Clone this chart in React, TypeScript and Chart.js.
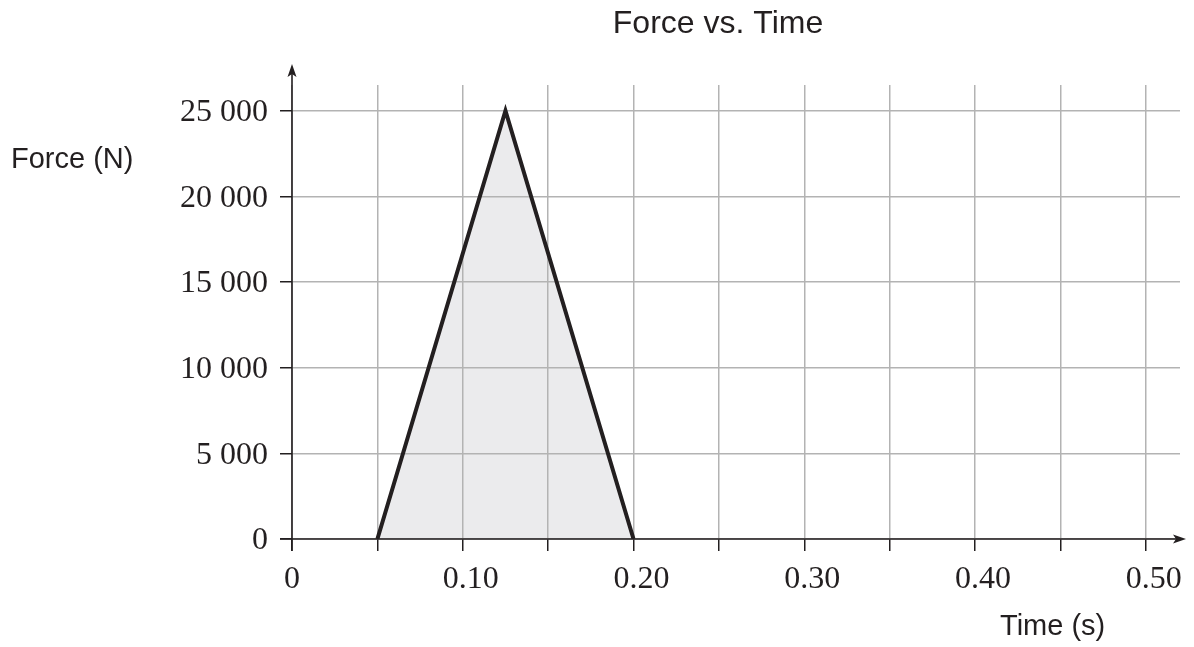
import React, { useEffect, useRef } from "react";
import { Chart, registerables } from "chart.js";

Chart.register(...registerables);

const timeValues = [0.05, 0.125, 0.2];
const forceValues = [0, 25000, 0];
const xTickValues = [0, 0.05, 0.1, 0.15, 0.2, 0.25, 0.3, 0.35, 0.4, 0.45, 0.5];
const xTickLabels = ["0", "", "\u20020.10", "", "\u20020.20", "", "\u20020.30", "", "\u20020.40", "", "\u20020.50"];
const yTickValues = [0, 5000, 10000, 15000, 20000, 25000];
const yTickLabels = ["0", "5 000", "10 000", "15 000", "20 000", "25 000"];
const titleText = "Force vs. Time";
const yTitleText = "Force (N)";
const xTitleText = "Time (s)";

const INK = "#231f20";
const SANS = "'Liberation Sans', Arial, sans-serif";
const SERIF = "'Liberation Serif', 'Times New Roman', serif";

const decorPlugin = {
  id: "decor",
  afterDraw(chart: any) {
    const { ctx, chartArea } = chart;
    const { left, right, bottom, top } = chartArea;
    ctx.save();
    ctx.strokeStyle = INK;
    ctx.fillStyle = INK;
    ctx.lineWidth = 1.6;
    // y axis
    ctx.beginPath();
    ctx.moveTo(left, bottom + 12);
    ctx.lineTo(left, top - 14);
    ctx.stroke();
    ctx.beginPath();
    ctx.moveTo(left, top - 21);
    ctx.lineTo(left - 4.5, top - 8);
    ctx.lineTo(left, top - 11);
    ctx.lineTo(left + 4.5, top - 8);
    ctx.closePath();
    ctx.fill();
    // x axis
    ctx.beginPath();
    ctx.moveTo(left - 12, bottom);
    ctx.lineTo(right + 2, bottom);
    ctx.stroke();
    ctx.beginPath();
    ctx.moveTo(right + 6, bottom);
    ctx.lineTo(right - 7, bottom - 4.5);
    ctx.lineTo(right - 4, bottom);
    ctx.lineTo(right - 7, bottom + 4.5);
    ctx.closePath();
    ctx.fill();
    // texts
    ctx.textBaseline = "middle";
    ctx.fillStyle = INK;
    ctx.font = `32px ${SANS}`;
    ctx.textAlign = "center";
    ctx.fillText(titleText, 718, 24);
    ctx.font = `29px ${SANS}`;
    ctx.textAlign = "left";
    ctx.fillText(yTitleText, 11, 160);
    ctx.fillText(xTitleText, 1000, 627);
    ctx.restore();
  },
};

export default function App() {
  const ref = useRef<HTMLCanvasElement | null>(null);
  useEffect(() => {
    if (!ref.current) return;
    const chart = new Chart(ref.current, {
      type: "line",
      data: {
        datasets: [
          {
            data: timeValues.map((t, i) => ({ x: t, y: forceValues[i] })),
            borderColor: INK,
            borderWidth: 4,
            borderJoinStyle: "miter",
            backgroundColor: "#ebebed",
            fill: "origin",
            pointRadius: 0,
            tension: 0,
          },
        ],
      },
      options: {
        animation: false,
        responsive: false,
        maintainAspectRatio: false,
        layout: { padding: { top: 85, right: 14, left: 0, bottom: 0 } },
        plugins: {
          legend: { display: false },
          tooltip: { enabled: false },
          title: { display: false },
          filler: { drawTime: "beforeDraw" },
        } as any,
        scales: {
          x: {
            type: "linear",
            min: 0,
            max: 0.52,
            afterBuildTicks: (scale: any) => {
              scale.ticks = xTickValues.map((v) => ({ value: v }));
            },
            afterFit: (scale: any) => {
              scale.height = 108;
            },
            border: { display: false },
            grid: {
              color: "#b3b3b3",
              lineWidth: 1.5,
              tickLength: 12,
              tickColor: INK,
              tickWidth: 1.5,
            },
            ticks: {
              autoSkip: false,
              maxRotation: 0,
              padding: 9,
              color: INK,
              font: { family: SERIF, size: 32 },
              callback: (_v: any, i: number) => xTickLabels[i],
            },
          },
          y: {
            type: "linear",
            min: 0,
            max: 26500,
            afterBuildTicks: (scale: any) => {
              scale.ticks = yTickValues.map((v) => ({ value: v }));
            },
            afterFit: (scale: any) => {
              scale.width = 292;
            },
            border: { display: false },
            grid: {
              color: "#b3b3b3",
              lineWidth: 1.5,
              tickLength: 12,
              tickColor: INK,
              tickWidth: 1.5,
            },
            ticks: {
              autoSkip: false,
              padding: 12,
              labelOffset: 2,
              color: INK,
              font: { family: SERIF, size: 32 },
              callback: (_v: any, i: number) => yTickLabels[i],
            },
          },
        },
      } as any,
      plugins: [decorPlugin],
    });
    return () => chart.destroy();
  }, []);
  return (
    <div style={{ position: "fixed", left: 0, top: 0, width: 1194, height: 647, background: "#fff" }}>
      <canvas ref={ref} width={1194} height={647} style={{ width: 1194, height: 647, display: "block" }} />
    </div>
  );
}
